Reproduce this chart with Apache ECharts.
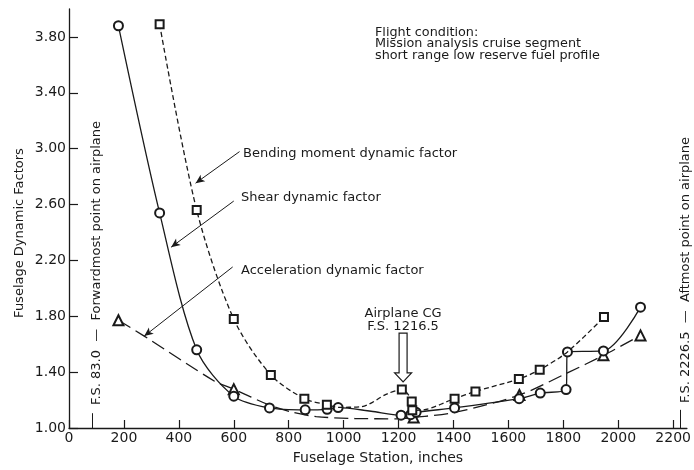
<!DOCTYPE html>
<html>
<head>
<meta charset="utf-8">
<style>
  html, body { margin: 0; padding: 0; background: #fff; }
  #chart { width: 694px; height: 470px; }
</style>
<script src="https://cdn.jsdelivr.net/npm/echarts@6/dist/echarts.min.js"></script>
</head>
<body>
<div id="chart"></div>
<script>
// [fuselage station (in), dynamic factor, 1 = plotted symbol / 0 = curve point only]
var shear = [
  [180, 3.88, 1], [330, 2.54, 1], [465, 1.56, 1], [600, 1.228, 1], [730, 1.144, 1],
  [860, 1.13, 1], [940, 1.134, 1], [980, 1.146, 1], [1100, 1.12, 0], [1209, 1.092, 1],
  [1244, 1.095, 1], [1264, 1.112, 1], [1404, 1.144, 1], [1639, 1.21, 1], [1716, 1.25, 1],
  [1810, 1.275, 1], [1815, 1.545, 1], [1946, 1.552, 1], [2081, 1.865, 1]
];
var bending = [
  [330, 3.89, 1], [465, 2.56, 1], [600, 1.78, 1], [735, 1.38, 1], [857, 1.21, 1],
  [939, 1.167, 1], [980, 1.148, 0], [1063, 1.152, 0], [1159, 1.245, 0], [1212, 1.276, 1],
  [1248, 1.19, 1], [1250, 1.127, 1], [1290, 1.13, 0], [1404, 1.21, 1], [1480, 1.262, 1],
  [1638, 1.351, 1], [1714, 1.417, 1], [1815, 1.545, 0], [1948, 1.794, 1]
];
var accel = [
  [180, 1.771, 1], [274, 1.658, 0], [530, 1.335, 0], [600, 1.278, 1], [728, 1.165, 0],
  [810, 1.115, 0], [900, 1.082, 0], [1040, 1.068, 0], [1200, 1.066, 0], [1255, 1.076, 1],
  [1400, 1.11, 0], [1640, 1.236, 1], [1815, 1.395, 0], [1946, 1.52, 1], [2081, 1.663, 1]
];
var xTicks = [0, 200, 400, 600, 800, 1000, 1200, 1400, 1600, 1800, 2000, 2200];
var yTicks = [1.0, 1.4, 1.8, 2.2, 2.6, 3.0, 3.4, 3.8];

var cgStation = 1216.5;
var fsForward = 83.0;
var fsAft = 2226.5;

var ink = '#1a1a1a';
var font = '"DejaVu Sans", sans-serif';

function pts(arr, symbol, size) {
  return arr.map(function (p) {
    return { value: [p[0], p[1]], symbol: p[2] ? symbol : 'none', symbolSize: size };
  });
}

var chart = echarts.init(document.getElementById('chart'));

var option = {
  animation: false,
  backgroundColor: '#fff',
  grid: { left: 69, right: 2, top: 9, bottom: 37 },
  xAxis: {
    type: 'value',
    min: 0,
    max: 2250,
    name: 'Fuselage Station, inches',
    nameLocation: 'middle',
    nameGap: 23,
    nameTextStyle: { fontFamily: font, fontSize: 14, color: ink },
    axisLine: { lineStyle: { color: ink, width: 1.3 } },
    axisTick: { inside: true, length: 8, customValues: xTicks, lineStyle: { color: ink, width: 1.2 } },
    axisLabel: {
      customValues: xTicks, margin: 3, fontFamily: font, fontSize: 14, color: ink,
      formatter: function (v) { return String(v); }
    },
    splitLine: { show: false }
  },
  yAxis: {
    type: 'value',
    min: 1,
    max: 4,
    axisLine: { show: true, lineStyle: { color: ink, width: 1.3 } },
    axisTick: { show: true, inside: true, length: 9, customValues: yTicks, lineStyle: { color: ink, width: 1.2 } },
    axisLabel: {
      customValues: yTicks, margin: 3, fontFamily: font, fontSize: 14, color: ink,
      formatter: function (v) { return v.toFixed(2); }
    },
    splitLine: { show: false }
  },
  series: [
    {
      name: 'Shear dynamic factor',
      type: 'line',
      smooth: 0.3,
      data: pts(shear, 'emptyCircle', 9),
      lineStyle: { color: ink, width: 1.3, type: 'solid' },
      itemStyle: { color: ink, borderWidth: 1.2 },
      z: 3
    },
    {
      name: 'Bending moment dynamic factor',
      type: 'line',
      smooth: 0.3,
      data: pts(bending, 'emptyRect', 8),
      lineStyle: { color: ink, width: 1.3, type: [5, 3] },
      itemStyle: { color: ink, borderWidth: 1.2 },
      z: 4
    },
    {
      name: 'Acceleration dynamic factor',
      type: 'line',
      smooth: 0.3,
      data: pts(accel, 'emptyTriangle', 10),
      lineStyle: { color: ink, width: 1.3, type: [14, 6] },
      itemStyle: { color: ink, borderWidth: 1.2 },
      z: 2,
      markLine: {
        silent: true,
        symbol: ['none', 'arrow'],
        symbolSize: [6, 9],
        label: { show: false },
        lineStyle: { color: ink, width: 1, type: 'solid' },
        data: [
          [{ coord: [621, 2.979] }, { coord: [461, 2.753] }],
          [{ coord: [600, 2.625] }, { coord: [372, 2.295] }],
          [{ coord: [596, 2.153] }, { coord: [274, 1.658] }],
          [{ coord: [fsForward, 1.0], symbol: 'none' }, { coord: [fsForward, 1.106], symbol: 'none' }],
          [{ coord: [fsAft, 1.0], symbol: 'none' }, { coord: [fsAft, 1.13], symbol: 'none' }]
        ]
      }
    }
  ]
};

chart.setOption(option);

// annotation layer, placed from data coordinates
var cgTop = chart.convertToPixel({ gridIndex: 0 }, [cgStation, 1.68]);
var cgNeck = chart.convertToPixel({ gridIndex: 0 }, [cgStation, 1.395]);
var cgTip = chart.convertToPixel({ gridIndex: 0 }, [cgStation, 1.33]);
var cx = cgTop[0];

function txt(x, y, text, size, align, rot) {
  return {
    type: 'text',
    x: x, y: y,
    rotation: rot || 0,
    style: {
      text: text, fill: ink, fontFamily: 'DejaVu Sans', fontSize: size,
      align: align || 'left', verticalAlign: 'middle', lineHeight: 11.5
    },
    z: 10
  };
}

chart.setOption({
  graphic: [
    txt(20, 233, 'Fuselage Dynamic Factors', 13, 'center', Math.PI / 2),
    txt(97, 263, 'F.S. 83.0  \u2014  Forwardmost point on airplane', 13, 'center', Math.PI / 2),
    txt(686, 270, 'F.S. 2226.5  \u2014  Aftmost point on airplane', 13, 'center', Math.PI / 2),
    txt(243, 154, 'Bending moment dynamic factor', 13),
    txt(241, 198, 'Shear dynamic factor', 13),
    txt(241, 271, 'Acceleration dynamic factor', 13),
    txt(375, 44, 'Flight condition:\nMission analysis cruise segment\nshort range low reserve fuel profile', 12.8),
    txt(cx, 314, 'Airplane CG', 13, 'center'),
    txt(cx, 327, 'F.S. 1216.5', 13, 'center'),
    {
      type: 'polygon',
      shape: {
        points: [
          [cx - 4, cgTop[1]], [cx + 4, cgTop[1]], [cx + 4, cgNeck[1]], [cx + 8.5, cgNeck[1]],
          [cx, cgTip[1]], [cx - 8.5, cgNeck[1]], [cx - 4, cgNeck[1]]
        ]
      },
      style: { fill: '#fff', stroke: ink, lineWidth: 1.2 },
      z: 10
    }
  ]
});
</script>
</body>
</html>
